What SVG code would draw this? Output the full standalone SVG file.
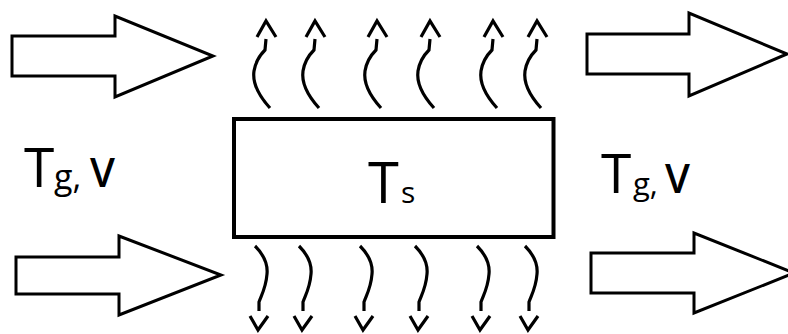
<svg xmlns="http://www.w3.org/2000/svg" xmlns:xlink="http://www.w3.org/1999/xlink" width="788" height="334" viewBox="0 0 788 334">
<style>
.blk{fill:#fff;stroke:#000;stroke-width:3;stroke-linejoin:miter}
.wv{fill:none;stroke:#000;stroke-width:3.2;stroke-linecap:butt;stroke-linejoin:miter}
.box{fill:#fff;stroke:#000;stroke-width:4}
text{font-family:"Open Sans","Liberation Sans",Arial,sans-serif;fill:#000}
.v{font-weight:600}
</style>
<defs>
<g id="up" class="wv">
<path d="M4,87 C-6,76 -14,64 -12,50 C-10,38 -4,32 -1,29 L0,18"/>
<path d="M-9,16 L0,0 L10,16"/>
</g>
<g id="down" class="wv">
<path d="M-3,-84 C5,-76 10,-66 9,-56 C8,-42 3,-34 1,-28 L1,-19"/>
<path d="M-8,-14 L0,0 L10,-14"/>
</g>
</defs>
<g id="flow-in-top"><polygon class="blk" points="12,36 115,36 115,16 213,56 115,97 115,76 12,76"/></g>
<g id="flow-out-top"><polygon class="blk" points="587,34 689,34 689,13 787,54 689,96 689,74 587,74"/></g>
<g id="flow-in-bottom"><polygon class="blk" points="16,257 119,257 119,236 221,275 119,315 119,294 16,294"/></g>
<g id="flow-out-bottom"><polygon class="blk" points="591,253 694,253 694,233 794,273 694,313 694,293 591,293"/></g>
<g id="body">
<rect class="box" x="234" y="119" width="319.5" height="118"/>
<text x="368" y="203" font-size="56">T</text>
<text x="401" y="203" font-size="30">s</text>
</g>
<g id="label-in">
<text x="24" y="187" font-size="55">T</text>
<text x="54" y="189" font-size="34">g,</text>
<text class="v" x="90" y="187" font-size="40">V</text>
</g>
<g id="label-out">
<text x="601" y="193" font-size="55">T</text>
<text x="633" y="195" font-size="31">g,</text>
<text class="v" x="665" y="193" font-size="40">V</text>
</g>
<g id="connectors">
<use xlink:href="#up" transform="translate(266,21)"/>
<use xlink:href="#up" transform="translate(315,21)"/>
<use xlink:href="#up" transform="translate(377,21)"/>
<use xlink:href="#up" transform="translate(430,21)"/>
<use xlink:href="#up" transform="translate(493,21)"/>
<use xlink:href="#up" transform="translate(537,21)"/>
<use xlink:href="#down" transform="translate(258,330)"/>
<use xlink:href="#down" transform="translate(302,330)"/>
<use xlink:href="#down" transform="translate(363,330)"/>
<use xlink:href="#down" transform="translate(418,330)"/>
<use xlink:href="#down" transform="translate(480,330)"/>
<use xlink:href="#down" transform="translate(528,330)"/>
</g>
</svg>
